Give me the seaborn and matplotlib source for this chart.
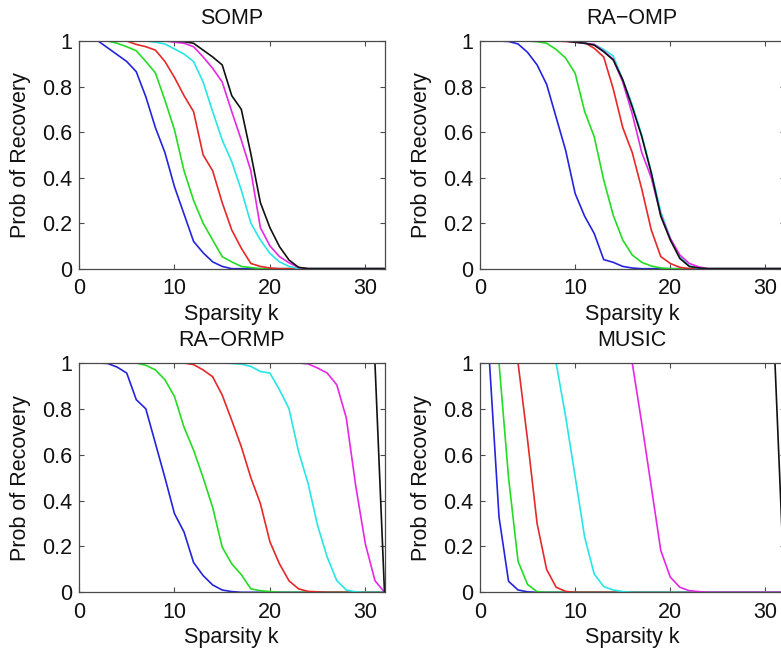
import matplotlib
matplotlib.use("Agg")
import matplotlib.pyplot as plt
import seaborn as sns
import pandas as pd

# ---------------- data ----------------
k = list(range(1, 33))
series_names = ["s1", "s2", "s3", "s4", "s5", "s6"]
titles = ["SOMP", "RA\u2212OMP", "RA\u2212ORMP", "MUSIC"]
xlabel = "Sparsity k"
ylabel = "Prob of Recovery"
xticks = [0, 10, 20, 30]
yticks = [0, 0.2, 0.4, 0.6, 0.8, 1]
yticklabels = ["0", "0.2", "0.4", "0.6", "0.8", "1"]

somp_blue = [1, 1, 0.97, 0.94, 0.91, 0.865, 0.755, 0.62, 0.51, 0.36, 0.24, 0.12, 0.07, 0.03, 0.01, 0,
             0, 0, 0, 0, 0, 0, 0, 0, 0, 0, 0, 0, 0, 0, 0, 0]
somp_green = [1, 1, 1, 0.99, 0.975, 0.957, 0.91, 0.86, 0.74, 0.61, 0.43, 0.30, 0.20, 0.126, 0.053, 0.03,
              0.01, 0.005, 0, 0, 0, 0, 0, 0, 0, 0, 0, 0, 0, 0, 0, 0]
somp_red = [1, 1, 1, 1, 1, 0.985, 0.975, 0.96, 0.91, 0.84, 0.76, 0.69, 0.50, 0.43, 0.29, 0.17,
            0.09, 0.023, 0.01, 0.003, 0, 0, 0, 0, 0, 0, 0, 0, 0, 0, 0, 0]
somp_cyan = [1, 1, 1, 1, 1, 1, 1, 0.995, 0.987, 0.965, 0.943, 0.91, 0.82, 0.69, 0.565, 0.47,
             0.345, 0.20, 0.126, 0.067, 0.03, 0.01, 0, 0, 0, 0, 0, 0, 0, 0, 0, 0]
somp_magenta = [1, 1, 1, 1, 1, 1, 1, 1, 1, 0.995, 0.99, 0.975, 0.93, 0.88, 0.82, 0.69,
                0.565, 0.43, 0.18, 0.10, 0.053, 0.026, 0.005, 0, 0, 0, 0, 0, 0, 0, 0, 0]
somp_black = [1, 1, 1, 1, 1, 1, 1, 1, 1, 1, 0.997, 0.99, 0.96, 0.93, 0.895, 0.76,
              0.70, 0.505, 0.29, 0.18, 0.097, 0.038, 0.006, 0, 0, 0, 0, 0, 0, 0, 0, 0]

raomp_blue = [1, 1, 0.998, 0.987, 0.95, 0.895, 0.81, 0.665, 0.52, 0.33, 0.23, 0.155, 0.04, 0.028, 0.01, 0.003,
              0, 0, 0, 0, 0, 0, 0, 0, 0, 0, 0, 0, 0, 0, 0, 0]
raomp_green = [1, 1, 1, 1, 1, 0.997, 0.99, 0.963, 0.925, 0.858, 0.69, 0.58, 0.39, 0.235, 0.126, 0.06,
               0.028, 0.012, 0.003, 0, 0, 0, 0, 0, 0, 0, 0, 0, 0, 0, 0, 0]
raomp_red = [1, 1, 1, 1, 1, 1, 1, 1, 0.998, 0.995, 0.993, 0.968, 0.93, 0.79, 0.62, 0.51,
             0.35, 0.17, 0.053, 0.023, 0.006, 0, 0, 0, 0, 0, 0, 0, 0, 0, 0, 0]
raomp_cyan = [1, 1, 1, 1, 1, 1, 1, 1, 1, 0.996, 0.99, 0.985, 0.963, 0.934, 0.83, 0.72,
              0.587, 0.426, 0.25, 0.133, 0.053, 0.012, 0, 0, 0, 0, 0, 0, 0, 0, 0, 0]
raomp_magenta = [1, 1, 1, 1, 1, 1, 1, 1, 1, 0.995, 0.99, 0.985, 0.955, 0.92, 0.82, 0.68,
                 0.51, 0.40, 0.236, 0.133, 0.06, 0.023, 0.008, 0, 0, 0, 0, 0, 0, 0, 0, 0]
raomp_black = [1, 1, 1, 1, 1, 1, 1, 1, 1, 0.995, 0.99, 0.982, 0.953, 0.917, 0.83, 0.71,
               0.58, 0.42, 0.23, 0.126, 0.045, 0.01, 0.003, 0, 0, 0, 0, 0, 0, 0, 0, 0]

raormp_blue = [1, 1, 0.998, 0.982, 0.956, 0.84, 0.80, 0.65, 0.50, 0.343, 0.263, 0.13, 0.073, 0.032, 0.01, 0.003,
               0, 0, 0, 0, 0, 0, 0, 0, 0, 0, 0, 0, 0, 0, 0, 0]
raormp_green = [1, 1, 1, 1, 1, 1, 0.99, 0.97, 0.927, 0.854, 0.72, 0.62, 0.50, 0.37, 0.197, 0.124,
                0.077, 0.015, 0.007, 0.003, 0, 0, 0, 0, 0, 0, 0, 0, 0, 0, 0, 0]
raormp_red = [1, 1, 1, 1, 1, 1, 1, 1, 1, 1, 1, 0.993, 0.97, 0.94, 0.86, 0.75,
              0.635, 0.50, 0.387, 0.22, 0.124, 0.05, 0.015, 0.004, 0.002, 0, 0, 0, 0, 0, 0, 0]
raormp_cyan = [1, 1, 1, 1, 1, 1, 1, 1, 1, 1, 1, 1, 1, 1, 1, 0.998,
               0.995, 0.985, 0.963, 0.956, 0.883, 0.80, 0.613, 0.474, 0.29, 0.153, 0.051, 0.01, 0.002, 0, 0, 0]
raormp_magenta = [1, 1, 1, 1, 1, 1, 1, 1, 1, 1, 1, 1, 1, 1, 1, 1,
                  1, 1, 1, 1, 1, 1, 1, 0.996, 0.978, 0.956, 0.905, 0.76, 0.46, 0.21, 0.051, 0]
raormp_black = [1, 1, 1, 1, 1, 1, 1, 1, 1, 1, 1, 1, 1, 1, 1, 1,
                1, 1, 1, 1, 1, 1, 1, 1, 1, 1, 1, 1, 1, 1, 1, 0]

music_blue = [1, 0.328, 0.048, 0.01, 0.002, 0, 0, 0, 0, 0, 0, 0, 0, 0, 0, 0,
              0, 0, 0, 0, 0, 0, 0, 0, 0, 0, 0, 0, 0, 0, 0, 0]
music_green = [1, 1, 0.5, 0.135, 0.034, 0.003, 0, 0, 0, 0, 0, 0, 0, 0, 0, 0,
               0, 0, 0, 0, 0, 0, 0, 0, 0, 0, 0, 0, 0, 0, 0, 0]
music_red = [1, 1, 1, 1, 0.664, 0.30, 0.10, 0.022, 0.004, 0, 0, 0, 0, 0, 0, 0,
             0, 0, 0, 0, 0, 0, 0, 0, 0, 0, 0, 0, 0, 0, 0, 0]
music_cyan = [1, 1, 1, 1, 1, 1, 1, 1, 0.766, 0.504, 0.24, 0.08, 0.025, 0.01, 0.003, 0,
              0, 0, 0, 0, 0, 0, 0, 0, 0, 0, 0, 0, 0, 0, 0, 0]
music_magenta = [1, 1, 1, 1, 1, 1, 1, 1, 1, 1, 1, 1, 1, 1, 1, 1,
                 0.737, 0.46, 0.182, 0.066, 0.022, 0.007, 0.003, 0, 0, 0, 0, 0, 0, 0, 0, 0]
music_black = [1, 1, 1, 1, 1, 1, 1, 1, 1, 1, 1, 1, 1, 1, 1, 1,
               1, 1, 1, 1, 1, 1, 1, 1, 1, 1, 1, 1, 1, 1, 1, 0]

panels = [
    [somp_blue, somp_green, somp_red, somp_cyan, somp_magenta, somp_black],
    [raomp_blue, raomp_green, raomp_red, raomp_cyan, raomp_magenta, raomp_black],
    [raormp_blue, raormp_green, raormp_red, raormp_cyan, raormp_magenta, raormp_black],
    [music_blue, music_green, music_red, music_cyan, music_magenta, music_black],
]

# ---------------- style ----------------
colors = ["#2424dc", "#24dc24", "#e62828", "#28e6e6", "#e628e6", "#111111"]
palette = dict(zip(series_names, colors))

sns.set_style("ticks")
plt.rcParams["font.family"] = ["Liberation Sans", "DejaVu Sans"]
plt.rcParams["axes.edgecolor"] = "#4a4a4a"
plt.rcParams["axes.linewidth"] = 0.9

W, H = 781, 654
fig = plt.figure(figsize=(W / 100, H / 100), dpi=100)

# axes rectangles in pixels: (left, top, right, bottom)
rects_px = [
    (79, 41, 384.5, 268.7),
    (480, 41, 784.5, 268.7),
    (79, 363, 384.5, 592.3),
    (480, 363, 784.5, 592.3),
]

fs = 15.5
for i, (vals_list, title) in enumerate(zip(panels, titles)):
    l, t, r, b = rects_px[i]
    ax = fig.add_axes([l / W, 1 - b / H, (r - l) / W, (b - t) / H])
    rows = []
    for name, vals in zip(series_names, vals_list):
        for kk, v in zip(k, vals):
            rows.append({"k": kk, "p": v, "series": name})
    df = pd.DataFrame(rows)
    sns.lineplot(data=df, x="k", y="p", hue="series", palette=palette,
                 estimator=None, sort=False, legend=False, linewidth=1.2, ax=ax)
    ax.set_xlim(0, 32)
    ax.set_ylim(0, 1)
    ax.set_xticks(xticks)
    ax.set_xticklabels([str(v) for v in xticks])
    ax.set_yticks(yticks)
    ax.set_yticklabels(yticklabels)
    for s in ax.spines.values():
        s.set_visible(True)
    ax.tick_params(direction="in", top=True, right=True, length=3.5, width=0.8,
                   colors="#4a4a4a", labelcolor="#111111", labelsize=fs)
    ax.tick_params(axis="x", pad=7)
    ax.tick_params(axis="y", pad=5)
    ax.set_xlabel(xlabel, fontsize=fs, color="#111111", labelpad=3)
    ax.set_ylabel(ylabel, fontsize=fs, color="#111111", labelpad=8)
    ax.set_title(title, fontsize=fs, color="#111111", pad=12)

fig.savefig("out.png", dpi=100)
